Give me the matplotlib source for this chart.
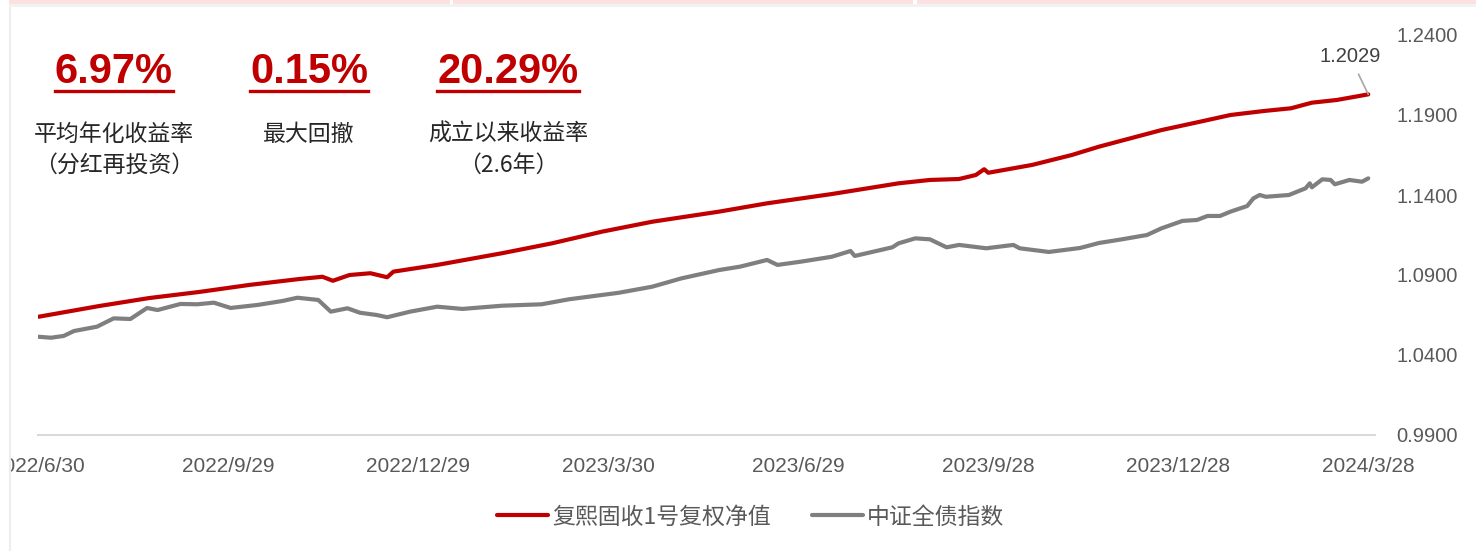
import matplotlib
matplotlib.use("Agg")
import matplotlib.pyplot as plt
import matplotlib.dates as mdates
import numpy as np
import pandas as pd
from matplotlib.lines import Line2D
from matplotlib.patches import Rectangle

# 复熙固收1号复权净值
nav_dates = [
    "2022-06-30", "2022-07-29", "2022-08-22", "2022-09-15", "2022-10-09", "2022-11-02",
    "2022-11-13", "2022-11-18", "2022-11-26", "2022-12-06", "2022-12-14", "2022-12-17",
    "2023-01-07", "2023-02-07", "2023-03-03", "2023-03-27", "2023-04-20", "2023-05-22",
    "2023-06-14", "2023-07-15", "2023-08-16", "2023-08-31", "2023-09-14", "2023-09-22",
    "2023-09-26", "2023-09-28", "2023-10-19", "2023-11-07", "2023-11-20", "2023-12-05",
    "2023-12-20", "2024-01-06", "2024-01-22", "2024-02-07", "2024-02-20", "2024-03-01",
    "2024-03-13", "2024-03-28",
]
nav_values = [
    1.0639, 1.0706, 1.0756, 1.0794, 1.0838, 1.0875,
    1.0889, 1.0864, 1.0900, 1.0911, 1.0886, 1.0921,
    1.0963, 1.1036, 1.1098, 1.1171, 1.1233, 1.1296,
    1.1348, 1.1406, 1.1473, 1.1494, 1.1500, 1.1525,
    1.1561, 1.1539, 1.1588, 1.1650, 1.1702, 1.1754,
    1.1806, 1.1854, 1.1900, 1.1925, 1.1942, 1.1977,
    1.1994, 1.2029,
]

# 中证全债指数 (normalised)
idx_dates = [
    "2022-06-30", "2022-07-06", "2022-07-12", "2022-07-17", "2022-07-28", "2022-08-05",
    "2022-08-13", "2022-08-21", "2022-08-26", "2022-09-06", "2022-09-14", "2022-09-22",
    "2022-09-30", "2022-10-13", "2022-10-25", "2022-11-01", "2022-11-11", "2022-11-17",
    "2022-11-25", "2022-12-01", "2022-12-09", "2022-12-14", "2022-12-25", "2023-01-07",
    "2023-01-19", "2023-02-07", "2023-02-26", "2023-03-11", "2023-04-04", "2023-04-20",
    "2023-05-04", "2023-05-22", "2023-06-01", "2023-06-14", "2023-06-19", "2023-06-30",
    "2023-07-15", "2023-07-24", "2023-07-26", "2023-08-13", "2023-08-16", "2023-08-24",
    "2023-08-31", "2023-09-08", "2023-09-14", "2023-09-27", "2023-10-10", "2023-10-13",
    "2023-10-27", "2023-11-11", "2023-11-20", "2023-12-01", "2023-12-13", "2023-12-20",
    "2023-12-30", "2024-01-06", "2024-01-11", "2024-01-17", "2024-01-22", "2024-01-30",
    "2024-02-02", "2024-02-05", "2024-02-08", "2024-02-19", "2024-02-27", "2024-02-29",
    "2024-03-01", "2024-03-06", "2024-03-10", "2024-03-12", "2024-03-19", "2024-03-25",
    "2024-03-28",
]
idx_values = [
    1.0514, 1.0508, 1.0519, 1.0550, 1.0577, 1.0629,
    1.0625, 1.0694, 1.0681, 1.0719, 1.0717, 1.0727,
    1.0694, 1.0713, 1.0738, 1.0758, 1.0744, 1.0671,
    1.0692, 1.0664, 1.0650, 1.0636, 1.0671, 1.0702,
    1.0688, 1.0708, 1.0717, 1.0748, 1.0789, 1.0827,
    1.0879, 1.0931, 1.0952, 1.0994, 1.0963, 1.0983,
    1.1014, 1.1050, 1.1019, 1.1073, 1.1098, 1.1129,
    1.1123, 1.1073, 1.1088, 1.1067, 1.1088, 1.1067,
    1.1044, 1.1069, 1.1100, 1.1123, 1.1150, 1.1192,
    1.1238, 1.1244, 1.1269, 1.1269, 1.1296, 1.1331,
    1.1379, 1.1400, 1.1389, 1.1400, 1.1442, 1.1473,
    1.1448, 1.1498, 1.1494, 1.1467, 1.1494, 1.1483,
    1.1504,
]

series_names = ["复熙固收1号复权净值", "中证全债指数"]
tick_dates = ["2022-06-30", "2022-09-29", "2022-12-29", "2023-03-30",
              "2023-06-29", "2023-09-28", "2023-12-28", "2024-03-28"]
y_ticks = [0.99, 1.04, 1.09, 1.14, 1.19, 1.24]

stat_values = ["6.97%", "0.15%", "20.29%"]
stat_labels = [["平均年化收益率", "（分红再投资）"], ["最大回撤"], ["成立以来收益率", "（2.6年）"]]

RED = "#C00000"
GREY = "#7F7F7F"
CJK = ["Noto Sans CJK SC", "DejaVu Sans"]
NUM = ["Liberation Sans", "DejaVu Sans"]

W, H = 1476, 551
fig = plt.figure(figsize=(W / 100, H / 100), dpi=100)


def fx(px):
    return px / W


def fy(py):
    return 1 - py / H


ax = fig.add_axes([fx(37.5), fy(435), fx(1374.5) - fx(37.5), fy(35) - fy(435)])

nav_d = pd.to_datetime(nav_dates)
idx_d = pd.to_datetime(idx_dates)
ax.plot(nav_d, nav_values, color=RED, lw=3, label=series_names[0], zorder=3,
        solid_joinstyle="round", solid_capstyle="round")
ax.plot(idx_d, idx_values, color=GREY, lw=3, label=series_names[1], zorder=2,
        solid_joinstyle="round", solid_capstyle="round")

start = pd.Timestamp("2022-06-30") - pd.Timedelta(days=0.5)
end = pd.Timestamp("2024-03-28") + pd.Timedelta(days=3)
ax.set_xlim(start, end)
ax.set_ylim(y_ticks[0], y_ticks[-1])

ticks = pd.to_datetime(tick_dates)
ax.set_xticks(ticks)
ax.set_xticklabels([f"{d.year}/{d.month}/{d.day}" for d in ticks],
                   fontsize=15, color="#595959", family=NUM)
ax.yaxis.tick_right()
ax.set_yticks(y_ticks)
ax.set_yticklabels([f"{v:.4f}" for v in y_ticks], fontsize=14.5, color="#595959", family=NUM)
ax.tick_params(axis="both", length=0)
ax.tick_params(axis="x", pad=16)
ax.tick_params(axis="y", pad=16)

for s in ["top", "left", "right"]:
    ax.spines[s].set_visible(False)
ax.spines["bottom"].set_color("#D9D9D9")
ax.spines["bottom"].set_linewidth(1.5)

# label for the latest value
ax.annotate(f"{nav_values[-1]:.4f}", xy=(nav_d[-1], nav_values[-1]),
            xytext=(-13, 27), textcoords="offset points", ha="center", va="center",
            fontsize=14.5, color="#404040", family=NUM,
            arrowprops=dict(arrowstyle="-", color="#A6A6A6", lw=1.2, shrinkA=4, shrinkB=0))

leg = fig.legend(loc="center", bbox_to_anchor=(fx(751), fy(517)), ncol=2, frameon=False,
                 handlelength=2.2, handletextpad=0.2, columnspacing=1.8,
                 prop={"family": CJK, "size": 16.5})
for t in leg.get_texts():
    t.set_color("#595959")

# headline figures
stat_x = [114, 309, 508]
for x, val, lab in zip(stat_x, stat_values, stat_labels):
    t = fig.text(fx(x), fy(83), val, ha="center", va="baseline", fontsize=30,
                 fontweight="bold", color=RED,
                 family=["Liberation Sans Narrow", "Liberation Sans"], fontstretch="condensed")
    fig.canvas.draw()
    bb = t.get_window_extent()
    fig.add_artist(Line2D([bb.x0 / W, bb.x1 / W], [fy(90.5), fy(90.5)],
                          transform=fig.transFigure, color=RED, lw=2.4))
    for i, line in enumerate(lab):
        fig.text(fx(x), fy(134 + 31 * i), line, ha="center", va="center",
                 fontsize=16.5, color="#262626", family=CJK)

# panel frame / top strip
fig.add_artist(Rectangle((0, 0), fx(9), 1, transform=fig.transFigure,
                         facecolor="white", edgecolor="none", zorder=10))
fig.add_artist(Line2D([fx(9.5), fx(9.5)], [0, fy(7)], transform=fig.transFigure,
                      color="#EDEDED", lw=1.5, zorder=11))
fig.add_artist(Rectangle((fx(9), fy(7)), 1, fy(4) - fy(7), transform=fig.transFigure,
                         facecolor="#F2F2F2", edgecolor="none", zorder=11))
for x0, x1 in [(9, 450), (453, 913), (917, 1476)]:
    fig.add_artist(Rectangle((fx(x0), fy(4)), fx(x1) - fx(x0), fy(0) - fy(4),
                             transform=fig.transFigure, facecolor="#FCE1E1",
                             edgecolor="none", zorder=11))

fig.savefig("out.png", dpi=100)
